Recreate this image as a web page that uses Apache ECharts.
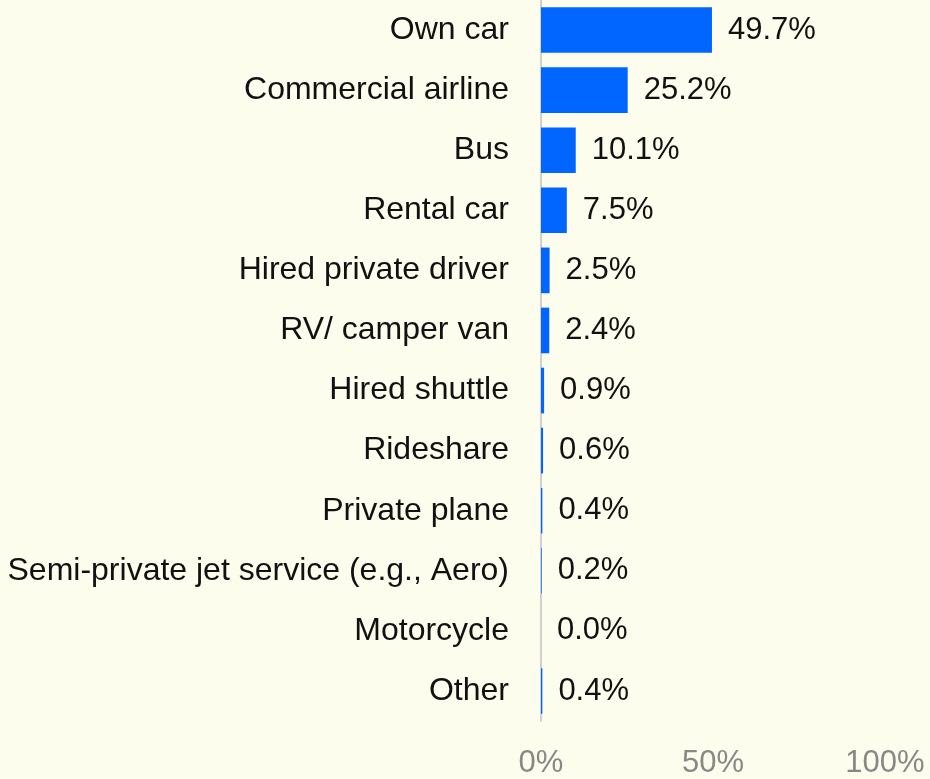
<!DOCTYPE html>
<html><head><meta charset="utf-8">
<script src="https://cdn.jsdelivr.net/npm/echarts@6/dist/echarts.min.js"></script>
<style>html,body{margin:0;padding:0;background:#fcfdec;}#c{width:930px;height:779px;}</style>
</head><body><div id="c"></div>
<script>
const categories = ["Own car","Commercial airline","Bus","Rental car","Hired private driver","RV/ camper van","Hired shuttle","Rideshare","Private plane","Semi-private jet service (e.g., Aero)","Motorcycle","Other"];
const values = [49.7,25.2,10.1,7.5,2.5,2.4,0.9,0.6,0.4,0.2,0.0,0.4];
const tickValues = [0,50,100];
const font = "'Liberation Sans', Arial, sans-serif";
const chart = echarts.init(document.getElementById('c'), null, {renderer:'canvas'});
chart.setOption({
  backgroundColor:'#fcfdec',
  animation:false,
  grid:{left:541, right:45, top:-3, bottom:57, containLabel:false},
  xAxis:{type:'value', min:0, max:100, interval:50,
    axisLine:{show:false}, axisTick:{show:false}, splitLine:{show:false},
    axisLabel:{formatter:v=>v+'%', color:'#888', fontSize:31, fontFamily:font, margin:27}},
  yAxis:{type:'category', data:categories, inverse:true,
    axisLine:{show:true, lineStyle:{color:'#d0d0d0', width:2}},
    axisTick:{show:false},
    axisLabel:{color:'#111', fontSize:32, fontFamily:font, margin:32}},
  series:[{type:'bar', data:values, barCategoryGap:'24%', itemStyle:{color:'#0066ff'},
    label:{show:true, position:'right', distance:16, color:'#111', fontSize:31, fontFamily:font,
      formatter:p=>p.value.toFixed(1)+'%'}}]
});
</script></body></html>
